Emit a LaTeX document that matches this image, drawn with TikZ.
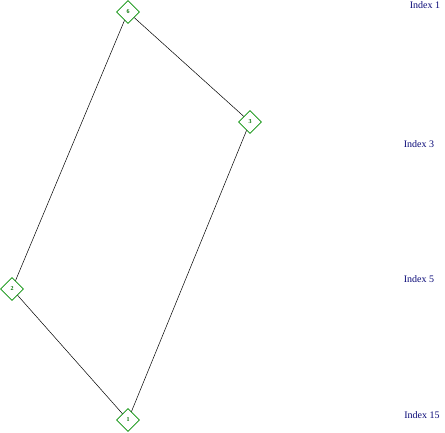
\documentclass[tikz,border=0pt]{standalone}
\usepackage{fontspec}
\setmainfont{Liberation Serif}
\usetikzlibrary{shapes.geometric}
\definecolor{nodegreen}{RGB}{0,140,0}
\definecolor{labelblue}{RGB}{10,10,120}
\begin{document}
\begin{tikzpicture}[x=1pt,y=-1pt,
  vtx/.style={diamond,draw=nodegreen,line width=0.6pt,minimum width=23pt,minimum height=23pt,inner sep=0pt,text=nodegreen!80!black,font=\fontsize{6}{6}\selectfont\bfseries},
  idx/.style={text=labelblue,font=\fontsize{10}{10}\selectfont,inner sep=0pt},
  edge/.style={draw=black,line width=0.5pt}]
\useasboundingbox (0,0) rectangle (445,432);
\node[vtx] (n6) at (128,12) {6};
\node[vtx] (n3) at (250,122) {3};
\node[vtx] (n2) at (12,289) {2};
\node[vtx] (n1) at (128,420) {1};
\draw[edge] (n6) -- (n3);
\draw[edge] (n6) -- (n2);
\draw[edge] (n3) -- (n1);
\draw[edge] (n2) -- (n1);
\node[idx] (l1) at (425,5) {Index 1};
\node[idx] (l3) at (419,144) {Index 3};
\node[idx] (l5) at (419,279) {Index 5};
\node[idx] (l15) at (422,415) {Index 15};
\end{tikzpicture}
\end{document}
